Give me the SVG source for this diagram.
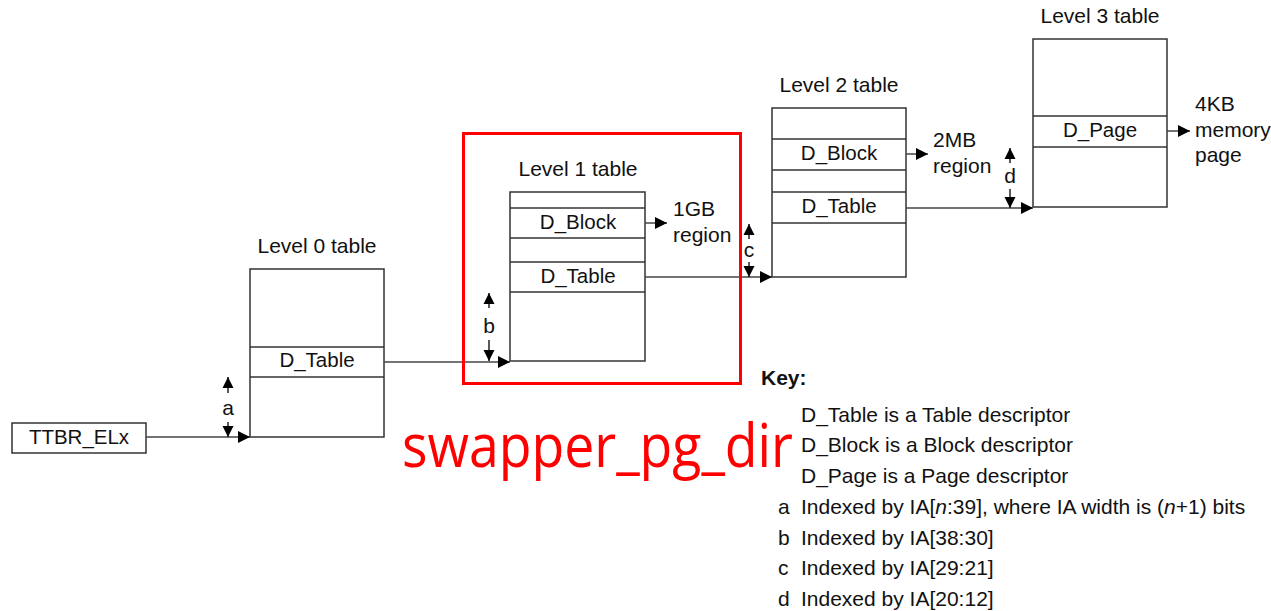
<svg xmlns="http://www.w3.org/2000/svg" width="1271" height="611" viewBox="0 0 1271 611">
<defs>
<marker id="ah" markerUnits="userSpaceOnUse" markerWidth="12" markerHeight="14" viewBox="0 0 12 14" refX="12" refY="7" orient="auto">
<path d="M0,1 L12,7 L0,13 Z" fill="#000"/>
</marker>
<marker id="sh" markerUnits="userSpaceOnUse" markerWidth="11" markerHeight="12" viewBox="0 0 11 12" refX="11" refY="6" orient="auto">
<path d="M0,0.5 L11,6 L0,11.5 Z" fill="#000"/>
</marker>
</defs>
<style>
text{font-family:"Liberation Sans",Arial,sans-serif;font-size:21px;fill:#111}
.c{text-anchor:middle}
.b{font-size:20.5px}
.box{fill:#fff;stroke:#333;stroke-width:1.5}
.row{stroke:#333;stroke-width:1.5}
.ln{stroke:#444;stroke-width:1.5;fill:none}
.ar{marker-end:url(#ah)}
.ix{stroke:#222;stroke-width:1.5;marker-end:url(#sh)}
</style>
<rect width="1271" height="611" fill="#fff"/>

<g id="ttbr">
<rect class="box" x="12" y="423" width="134" height="30"/>
<text class="c b" x="79" y="444">TTBR_ELx</text>
</g>

<g id="level0">
<text class="c" x="317" y="253">Level 0 table</text>
<rect class="box" x="250" y="269" width="134" height="168"/>
<line class="row" x1="250" y1="347" x2="384" y2="347"/>
<line class="row" x1="250" y1="377" x2="384" y2="377"/>
<text class="c b" x="317" y="367">D_Table</text>
</g>

<g id="level1">
<text class="c" x="578" y="176">Level 1 table</text>
<rect class="box" x="510" y="192" width="135" height="169"/>
<line class="row" x1="510" y1="208" x2="645" y2="208"/>
<line class="row" x1="510" y1="238" x2="645" y2="238"/>
<line class="row" x1="510" y1="262" x2="645" y2="262"/>
<line class="row" x1="510" y1="292" x2="645" y2="292"/>
<text class="c b" x="578" y="229">D_Block</text>
<text class="c b" x="578" y="283">D_Table</text>
<text x="673" y="216">1GB</text>
<text x="673" y="242">region</text>
</g>

<g id="level2">
<text class="c" x="839" y="92">Level 2 table</text>
<rect class="box" x="772" y="108" width="134" height="169"/>
<line class="row" x1="772" y1="139" x2="906" y2="139"/>
<line class="row" x1="772" y1="170" x2="906" y2="170"/>
<line class="row" x1="772" y1="192" x2="906" y2="192"/>
<line class="row" x1="772" y1="223" x2="906" y2="223"/>
<text class="c b" x="839" y="160">D_Block</text>
<text class="c b" x="839" y="213">D_Table</text>
<text x="933" y="147">2MB</text>
<text x="933" y="173">region</text>
</g>

<g id="level3">
<text class="c" x="1100" y="23">Level 3 table</text>
<rect class="box" x="1033" y="39" width="134" height="168"/>
<line class="row" x1="1033" y1="116" x2="1167" y2="116"/>
<line class="row" x1="1033" y1="147" x2="1167" y2="147"/>
<text class="c b" x="1100" y="137">D_Page</text>
<text x="1195" y="111">4KB</text>
<text x="1195" y="137">memory</text>
<text x="1195" y="162">page</text>
</g>

<g id="connectors">
<line class="ln ar" x1="146" y1="437" x2="250" y2="437"/>
<line class="ln ar" x1="384" y1="362" x2="510" y2="362"/>
<line class="ln ar" x1="645" y1="277" x2="772" y2="277"/>
<line class="ln ar" x1="906" y1="208" x2="1033" y2="208"/>
<line class="ln ar" x1="645" y1="223" x2="667" y2="223"/>
<line class="ln ar" x1="906" y1="154" x2="928" y2="154"/>
<line class="ln ar" x1="1167" y1="131" x2="1190" y2="131"/>
</g>

<g id="index-arrows">
<line class="ix" x1="228" y1="393" x2="228" y2="377"/>
<line class="ix" x1="228" y1="422" x2="228" y2="437"/>
<text class="c" x="228" y="415">a</text>
<line class="ix" x1="489" y1="308" x2="489" y2="293"/>
<line class="ix" x1="489" y1="340" x2="489" y2="361"/>
<text class="c" x="489" y="333">b</text>
<line class="ix" x1="749" y1="239" x2="749" y2="224"/>
<line class="ix" x1="749" y1="262" x2="749" y2="277"/>
<text class="c" x="749" y="257">c</text>
<line class="ix" x1="1010" y1="163" x2="1010" y2="148"/>
<line class="ix" x1="1010" y1="189" x2="1010" y2="208"/>
<text class="c" x="1010" y="183">d</text>
</g>

<g id="highlight">
<rect x="463.5" y="133.5" width="277" height="250" fill="none" stroke="#f00" stroke-width="3"/>
<text x="402" y="467" textLength="391" lengthAdjust="spacingAndGlyphs" style="font-family:'Open Sans','Noto Sans',sans-serif;font-size:60px;fill:#f00">swapper_pg_dir</text>
</g>

<g id="key">
<text x="761" y="385" style="font-weight:bold">Key:</text>
<text x="801" y="422">D_Table is a Table descriptor</text>
<text x="801" y="452">D_Block is a Block descriptor</text>
<text x="801" y="483">D_Page is a Page descriptor</text>
<text x="778" y="514">a</text>
<text x="801" y="514">Indexed by IA[<tspan font-style="italic">n</tspan>:39], where IA width is (<tspan font-style="italic">n</tspan>+1) bits</text>
<text x="778" y="545">b</text>
<text x="801" y="545">Indexed by IA[38:30]</text>
<text x="778" y="575">c</text>
<text x="801" y="575">Indexed by IA[29:21]</text>
<text x="778" y="606">d</text>
<text x="801" y="606">Indexed by IA[20:12]</text>
</g>
</svg>
